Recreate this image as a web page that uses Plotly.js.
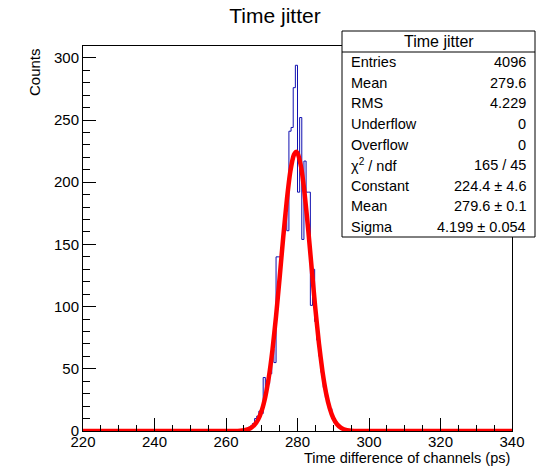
<!DOCTYPE html>
<html>
<head>
<meta charset="utf-8">
<script src="https://cdn.plot.ly/plotly-3.0.1.min.js"></script>
<style>html,body{margin:0;padding:0;background:#fff;}#chart{width:539px;height:467px;}</style>
</head>
<body>
<div id="chart"></div>
<script>
// ---- data ----
const histRange = [220, 340];
const binWidth = 0.6;
const firstBinLow = 264.4;
const counts = [1,1,2,3,4,6,10,12,16,14,
                43,32,38,46,66,55,
                140,140,140,158,175,161,
                241,244,276,294,
                192,252,154,217,192,192,
                101,130,88,73,60,47,35,27,
                22,18,10,7,5,3,2,1,1];
const fitX = [220,262,264,266,267,268,269,270,271,272,273,274,275,276,277,278,279,279.6,280,281,282,283,284,285,286,287,288,289,290,291,292,293,295,297,340];
const fitY = [0,0,0.2,1.2,2.5,5,9.3,16.5,27.6,43.6,65.3,92.3,123.2,155.5,185.2,208.7,222.1,224.4,223.4,212.3,190.6,161.7,129.7,98.2,70.3,47.5,30.4,18.4,10.4,5.6,2.9,1.4,0.3,0,0];
const xTicks = [220,240,260,280,300,320,340];
const yTicks = [0,50,100,150,200,250,300];
const statTitle = "Time jitter";
const statLabels = ["Entries","Mean","RMS","Underflow","Overflow","χ<sup>2</sup> / ndf","Constant","Mean","Sigma"];
const statValues = ["4096","279.6","4.229","0","0","165 / 45","224.4 ± 4.6","279.6 ± 0.1","4.199 ± 0.054"];
const chartTitle = "Time jitter";
const xTitle = "Time difference of channels (ps)";
const yTitle = "Counts";

// ---- build step histogram ----
const hx = [histRange[0]], hy = [0];
counts.forEach((c, i) => { hx.push(firstBinLow + i * binWidth); hy.push(c); });
hx.push(firstBinLow + counts.length * binWidth); hy.push(0);
hx.push(histRange[1]); hy.push(0);

const FONT = "Liberation Sans, Arial, Helvetica, sans-serif";

const traces = [
  {x: hx, y: hy, type: 'scatter', mode: 'lines', line: {shape: 'hv', color: '#1010b0', width: 1}, hoverinfo: 'skip'},
  {x: fitX, y: fitY, type: 'scatter', mode: 'lines', line: {shape: 'spline', smoothing: 0.5, color: '#ff0000', width: 4.5}, hoverinfo: 'skip'}
];

// plot area in px: x 83..512, y 46..431
const L = 83, R = 512, T = 46, B = 431;
const px2x = p => (p - L) / (R - L);
const px2y = p => (B - p) / (B - T);

const boxL = 342, boxR = 535, boxT = 31, boxSep = 52, boxB = 237;
const rowH = (boxB - boxSep) / statLabels.length;

const shapes = [
  {type: 'rect', xref: 'paper', yref: 'paper', x0: px2x(boxL), x1: px2x(boxR), y0: px2y(boxB), y1: px2y(boxT),
   fillcolor: '#ffffff', line: {color: '#000', width: 1}, layer: 'above'},
  {type: 'line', xref: 'paper', yref: 'paper', x0: px2x(boxL), x1: px2x(boxR), y0: px2y(boxSep), y1: px2y(boxSep),
   line: {color: '#000', width: 1}, layer: 'above'}
];

const annotations = [
  {text: statTitle, xref: 'paper', yref: 'paper', x: px2x((boxL + boxR) / 2), y: px2y((boxT + boxSep) / 2),
   xanchor: 'center', yanchor: 'middle', showarrow: false, font: {family: FONT, size: 16, color: '#000'}},
  {text: yTitle, xref: 'paper', yref: 'paper', x: px2x(34), y: 1, textangle: -90,
   xanchor: 'center', yanchor: 'top', showarrow: false, font: {family: FONT, size: 15, color: '#000'}},
  {text: xTitle, xref: 'paper', yref: 'paper', x: 1, y: px2y(458),
   xanchor: 'right', yanchor: 'middle', showarrow: false, font: {family: FONT, size: 14.5, color: '#000'}}
];
statLabels.forEach((lab, i) => {
  const yc = px2y(boxSep + rowH * (i + 0.5));
  annotations.push({text: lab, xref: 'paper', yref: 'paper', x: px2x(349), y: yc, xanchor: 'left', yanchor: 'middle',
    showarrow: false, font: {family: FONT, size: 14.5, color: '#000'}});
  annotations.push({text: statValues[i], xref: 'paper', yref: 'paper', x: px2x(528), y: yc, xanchor: 'right', yanchor: 'middle',
    showarrow: false, font: {family: FONT, size: 14.5, color: '#000'}});
});

const layout = {
  width: 539, height: 467,
  margin: {l: L, r: 539 - R, t: T, b: 467 - B, pad: 0},
  paper_bgcolor: '#fff', plot_bgcolor: '#fff',
  showlegend: false,
  title: {text: chartTitle, xref: 'container', yref: 'container', x: 275 / 539, y: 1 - 16 / 467,
          xanchor: 'center', yanchor: 'middle', font: {family: FONT, size: 21, color: '#000'}},
  font: {family: FONT, color: '#000'},
  xaxis: {
    range: histRange, tickmode: 'array', tickvals: xTicks, ticktext: xTicks.map(String),
    ticks: 'inside', ticklen: 13, tickwidth: 1, tickcolor: '#000', ticklabelstandoff: -3,
    minor: {dtick: 5, tick0: 220, ticks: 'inside', ticklen: 6.5, tickwidth: 1, tickcolor: '#000', showgrid: false},
    showline: true, linecolor: '#000', linewidth: 1, mirror: true,
    showgrid: false, zeroline: false,
    tickfont: {family: FONT, size: 15, color: '#000'}
  },
  yaxis: {
    range: [0, 309.5], tickmode: 'array', tickvals: yTicks, ticktext: yTicks.map(String),
    ticks: 'inside', ticklen: 13, tickwidth: 1, tickcolor: '#000',
    minor: {dtick: 10, tick0: 0, ticks: 'inside', ticklen: 6.5, tickwidth: 1, tickcolor: '#000', showgrid: false},
    showline: true, linecolor: '#000', linewidth: 1, mirror: true,
    showgrid: false, zeroline: false,
    tickfont: {family: FONT, size: 15, color: '#000'}
  },
  shapes: shapes,
  annotations: annotations
};

Plotly.newPlot('chart', traces, layout, {staticPlot: true, displayModeBar: false});
</script>
</body>
</html>
